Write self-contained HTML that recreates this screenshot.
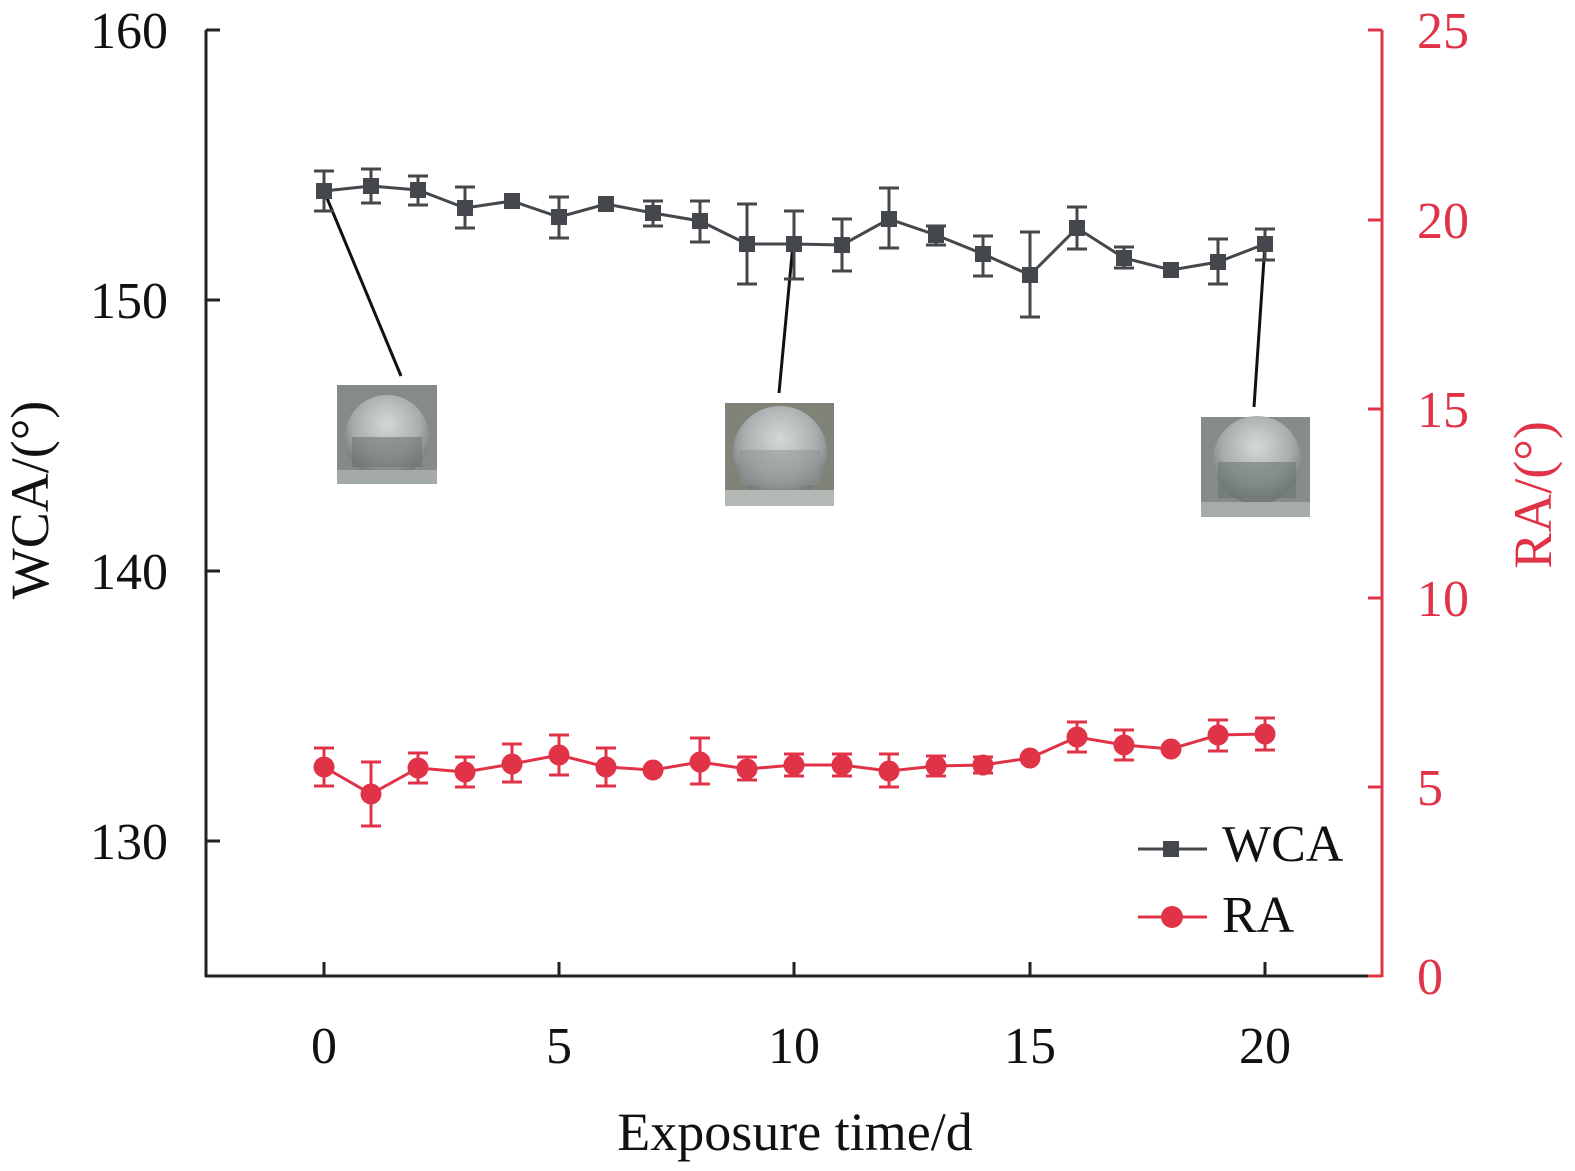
<!DOCTYPE html>
<html><head><style>body{margin:0;background:#fff}svg{display:block}text{font-family:"Liberation Serif",serif}</style></head>
<body>
<svg width="1575" height="1171" viewBox="0 0 1575 1171" xmlns="http://www.w3.org/2000/svg">
<defs>
<radialGradient id="drop" cx="50%" cy="35%" r="65%"><stop offset="0" stop-color="#d4d8d8"/><stop offset="0.6" stop-color="#a8aeae"/><stop offset="1" stop-color="#6c7272"/></radialGradient>
</defs>
<!-- photos -->
<g>
<rect x="337" y="385" width="100" height="99" fill="#858b8a"/>
<circle cx="387" cy="437" r="42" fill="url(#drop)"/>
<rect x="352" y="437" width="70" height="30" fill="#6e7474" opacity="0.6"/>
<rect x="337" y="470" width="100" height="14" fill="#a4aaa8"/>
<rect x="725" y="403" width="109" height="103" fill="#7f8378"/>
<circle cx="780" cy="453" r="47" fill="url(#drop)"/>
<rect x="740" y="450" width="80" height="35" fill="#8e9494" opacity="0.5"/>
<rect x="725" y="490" width="109" height="16" fill="#b4b8b4"/>
<rect x="1201" y="417" width="109" height="100" fill="#868c8a"/>
<circle cx="1257" cy="460" r="44" fill="url(#drop)"/>
<rect x="1218" y="462" width="78" height="36" fill="#6c7474" opacity="0.6"/>
<rect x="1201" y="502" width="109" height="15" fill="#a6acaa"/>
</g>
<!-- connectors -->
<g stroke="#111" stroke-width="3">
<line x1="324" y1="191" x2="401" y2="376"/>
<line x1="793" y1="244" x2="779" y2="393"/>
<line x1="1265" y1="244" x2="1254" y2="407"/>
</g>
<!-- axes -->
<g stroke="#222" stroke-width="3" fill="none">
<line x1="206" y1="30" x2="206" y2="977"/>
<line x1="205" y1="976" x2="1382" y2="976"/>
<line x1="206" y1="30" x2="220" y2="30"/><line x1="206" y1="300" x2="220" y2="300"/><line x1="206" y1="571" x2="220" y2="571"/><line x1="206" y1="841" x2="220" y2="841"/>
<line x1="324" y1="976" x2="324" y2="962"/><line x1="559" y1="976" x2="559" y2="962"/><line x1="794" y1="976" x2="794" y2="962"/><line x1="1030" y1="976" x2="1030" y2="962"/><line x1="1265" y1="976" x2="1265" y2="962"/>
</g>
<g stroke="#e03347" stroke-width="3">
<line x1="1382" y1="30" x2="1382" y2="977"/>
<line x1="1382" y1="30" x2="1368" y2="30"/><line x1="1382" y1="220" x2="1368" y2="220"/><line x1="1382" y1="409" x2="1368" y2="409"/><line x1="1382" y1="598" x2="1368" y2="598"/><line x1="1382" y1="787" x2="1368" y2="787"/><line x1="1382" y1="976" x2="1368" y2="976"/>
</g>
<!-- tick labels -->
<g font-size="52" fill="#111" text-anchor="end">
<text x="168" y="48">160</text><text x="168" y="318">150</text><text x="168" y="589">140</text><text x="168" y="859">130</text>
</g>
<g font-size="52" fill="#111" text-anchor="middle">
<text x="324" y="1063">0</text><text x="559" y="1063">5</text><text x="794" y="1063">10</text><text x="1030" y="1063">15</text><text x="1265" y="1063">20</text>
</g>
<g font-size="52" fill="#e03347" text-anchor="start">
<text x="1417" y="48">25</text><text x="1417" y="238">20</text><text x="1417" y="427">15</text><text x="1417" y="616">10</text><text x="1417" y="805">5</text><text x="1417" y="994">0</text>
</g>
<text x="795" y="1150" font-size="54" text-anchor="middle" fill="#111">Exposure time/d</text>
<text transform="translate(48,500) rotate(-90)" font-size="54" text-anchor="middle" fill="#111">WCA/(°)</text>
<text transform="translate(1551,495) rotate(-90)" font-size="54" text-anchor="middle" fill="#e03347">RA/(°)</text>
<!-- WCA -->
<g stroke="#44474b" stroke-width="3" fill="none">
<polyline points="324,191 371,186 418,190 465,208 512,201 559,217 606,204 653,213 700,221 747,244 794,244 842,245 889,219 936,235 983,254 1030,275 1077,228 1124,258 1171,270 1218,262 1265,244"/>
<path d="M324 171V211M314 171H334M314 211H334
M371 169V203M361 169H381M361 203H381
M418 176V205M408 176H428M408 205H428
M465 187V228M455 187H475M455 228H475
M559 197V238M549 197H569M549 238H569
M653 201V226M643 201H663M643 226H663
M700 201V242M690 201H710M690 242H710
M747 204V284M737 204H757M737 284H757
M794 211V279M784 211H804M784 279H804
M842 219V271M832 219H852M832 271H852
M889 188V248M879 188H899M879 248H899
M936 226V245M926 226H946M926 245H946
M983 236V276M973 236H993M973 276H993
M1030 232V317M1020 232H1040M1020 317H1040
M1077 207V249M1067 207H1087M1067 249H1087
M1124 247V268M1114 247H1134M1114 268H1134
M1218 239V284M1208 239H1228M1208 284H1228
M1265 229V260M1255 229H1275M1255 260H1275"/>
</g>
<g fill="#44474b">
<rect x="316" y="183" width="16" height="16"/><rect x="363" y="178" width="16" height="16"/><rect x="410" y="182" width="16" height="16"/><rect x="457" y="200" width="16" height="16"/><rect x="504" y="193" width="16" height="16"/><rect x="551" y="209" width="16" height="16"/><rect x="598" y="196" width="16" height="16"/><rect x="645" y="205" width="16" height="16"/><rect x="692" y="213" width="16" height="16"/><rect x="739" y="236" width="16" height="16"/><rect x="786" y="236" width="16" height="16"/><rect x="834" y="237" width="16" height="16"/><rect x="881" y="211" width="16" height="16"/><rect x="928" y="227" width="16" height="16"/><rect x="975" y="246" width="16" height="16"/><rect x="1022" y="267" width="16" height="16"/><rect x="1069" y="220" width="16" height="16"/><rect x="1116" y="250" width="16" height="16"/><rect x="1163" y="262" width="16" height="16"/><rect x="1210" y="254" width="16" height="16"/><rect x="1257" y="236" width="16" height="16"/>
</g>
<!-- RA -->
<g stroke="#e03347" stroke-width="3" fill="none">
<polyline points="324,767 371,794 418,768 465,772 512,764 559,755 606,767 653,770 700,762 747,769 794,765 842,765 889,771 936,766 983,765 1030,758 1077,737 1124,745 1171,749 1218,735 1265,734"/>
<path d="M324 748V786M314 748H334M314 786H334
M371 762V826M361 762H381M361 826H381
M418 753V783M408 753H428M408 783H428
M465 757V787M455 757H475M455 787H475
M512 744V782M502 744H522M502 782H522
M559 735V775M549 735H569M549 775H569
M606 748V786M596 748H616M596 786H616
M700 738V784M690 738H710M690 784H710
M747 757V780M737 757H757M737 780H757
M794 754V776M784 754H804M784 776H804
M842 754V776M832 754H852M832 776H852
M889 754V787M879 754H899M879 787H899
M936 756V776M926 756H946M926 776H946
M983 757V773M973 757H993M973 773H993
M1077 722V752M1067 722H1087M1067 752H1087
M1124 730V760M1114 730H1134M1114 760H1134
M1218 720V751M1208 720H1228M1208 751H1228
M1265 718V750M1255 718H1275M1255 750H1275"/>
</g>
<g fill="#e03347">
<circle cx="324" cy="767" r="10.5"/><circle cx="371" cy="794" r="10.5"/><circle cx="418" cy="768" r="10.5"/><circle cx="465" cy="772" r="10.5"/><circle cx="512" cy="764" r="10.5"/><circle cx="559" cy="755" r="10.5"/><circle cx="606" cy="767" r="10.5"/><circle cx="653" cy="770" r="10.5"/><circle cx="700" cy="762" r="10.5"/><circle cx="747" cy="769" r="10.5"/><circle cx="794" cy="765" r="10.5"/><circle cx="842" cy="765" r="10.5"/><circle cx="889" cy="771" r="10.5"/><circle cx="936" cy="766" r="10.5"/><circle cx="983" cy="765" r="10.5"/><circle cx="1030" cy="758" r="10.5"/><circle cx="1077" cy="737" r="10.5"/><circle cx="1124" cy="745" r="10.5"/><circle cx="1171" cy="749" r="10.5"/><circle cx="1218" cy="735" r="10.5"/><circle cx="1265" cy="734" r="10.5"/>
</g>
<!-- legend -->
<line x1="1138" y1="849" x2="1207" y2="849" stroke="#44474b" stroke-width="3"/>
<rect x="1163" y="841" width="16" height="16" fill="#44474b"/>
<text x="1222" y="861" font-size="52" fill="#111">WCA</text>
<line x1="1138" y1="917" x2="1207" y2="917" stroke="#e03347" stroke-width="3"/>
<circle cx="1172" cy="917" r="11" fill="#e03347"/>
<text x="1222" y="932" font-size="52" fill="#111">RA</text>
</svg>
</body></html>
